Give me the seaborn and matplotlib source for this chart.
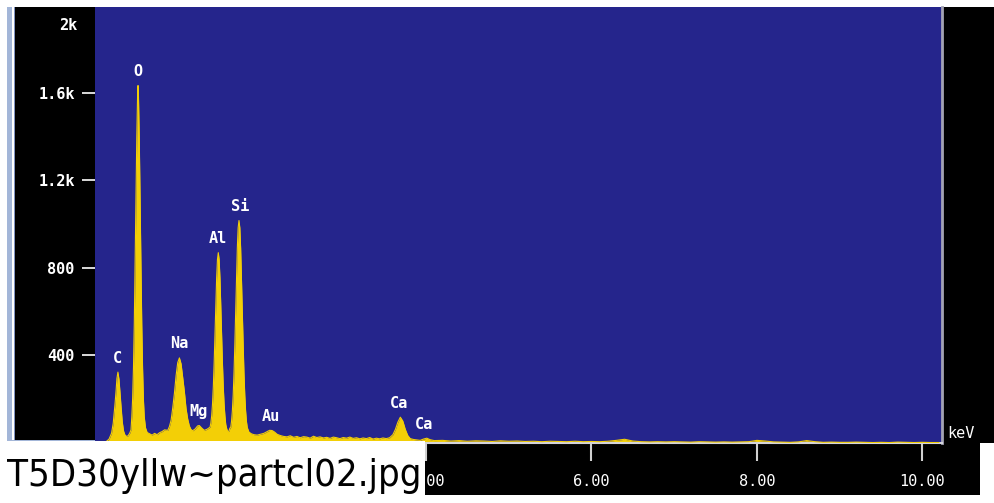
import matplotlib
matplotlib.use("Agg")
import matplotlib.pyplot as plt
from matplotlib import font_manager
from matplotlib.font_manager import FontProperties
from matplotlib.patches import Rectangle
import pandas as pd
import seaborn as sns

# ---------------------------------------------------------------- data
energy_kev = [
    0.10, 0.14, 0.17, 0.20, 0.22, 0.24, 0.255, 0.265, 0.277, 0.29, 0.30, 0.315,
    0.33, 0.345, 0.36, 0.38, 0.40, 0.42, 0.435, 0.445, 0.455, 0.465, 0.475,
    0.485, 0.495, 0.505, 0.515, 0.52, 0.525, 0.535, 0.545, 0.555, 0.565, 0.575,
    0.585, 0.595, 0.61, 0.63, 0.66, 0.69, 0.72, 0.75, 0.78, 0.81, 0.84, 0.88,
    0.90, 0.92, 0.94, 0.96, 0.98, 1.00, 1.02, 1.04, 1.06, 1.08, 1.10, 1.12,
    1.14, 1.16, 1.18, 1.21, 1.24, 1.26, 1.29, 1.32, 1.35, 1.39, 1.40, 1.41,
    1.42, 1.43, 1.44, 1.45, 1.46, 1.47, 1.48, 1.49, 1.50, 1.51, 1.52, 1.53,
    1.54, 1.55, 1.56, 1.57, 1.58, 1.59, 1.60, 1.61, 1.62, 1.63, 1.64, 1.65,
    1.66, 1.67, 1.68, 1.69, 1.70, 1.71, 1.72, 1.73, 1.74, 1.75, 1.76, 1.77,
    1.78, 1.79, 1.80, 1.81, 1.82, 1.83, 1.84, 1.86, 1.89, 1.92, 1.96, 2.00,
    2.04, 2.08, 2.11, 2.14, 2.17, 2.20, 2.24, 2.28, 2.32, 2.36, 2.40, 2.44,
    2.48, 2.52, 2.56, 2.60, 2.64, 2.68, 2.72, 2.76, 2.80, 2.84, 2.88, 2.92,
    2.96, 3.00, 3.04, 3.08, 3.12, 3.16, 3.20, 3.24, 3.28, 3.32, 3.36, 3.40,
    3.44, 3.48, 3.52, 3.56, 3.60, 3.63, 3.66, 3.69, 3.72, 3.75, 3.78, 3.81,
    3.85, 3.89, 3.93, 3.97, 4.01, 4.05, 4.10, 4.20, 4.30, 4.40, 4.50, 4.60,
    4.70, 4.80, 4.90, 5.00, 5.10, 5.20, 5.30, 5.40, 5.50, 5.60, 5.70, 5.80,
    5.90, 6.00, 6.10, 6.20, 6.30, 6.40, 6.50, 6.60, 6.70, 6.80, 6.90, 7.00,
    7.10, 7.20, 7.30, 7.40, 7.50, 7.60, 7.70, 7.80, 7.90, 8.00, 8.10, 8.20,
    8.30, 8.40, 8.50, 8.60, 8.70, 8.80, 8.90, 9.00, 9.10, 9.20, 9.30, 9.40,
    9.50, 9.60, 9.70, 9.80, 9.90, 10.00, 10.10, 10.20,
]
counts = [
    2, 8, 18, 45, 90, 170, 240, 295, 324, 290, 240, 160,
    95, 55, 38, 30, 33, 45, 60, 120, 205, 345, 550,
    815, 1115, 1395, 1595, 1634, 1590, 1390, 1110, 810, 545, 340,
    200, 120, 70, 48, 42, 36, 44, 38, 47, 52, 60, 58,
    76, 105, 162, 228, 308, 368, 389, 362, 300, 235, 158, 110,
    78, 62, 56, 64, 78, 80, 68, 58, 62, 72, 91, 124,
    178, 258, 366, 495, 631, 754, 839, 870, 839, 754, 631, 495,
    366, 258, 178, 124, 85, 68, 56, 52, 55, 68, 71, 99,
    147, 219, 321, 451, 601, 755, 891, 984, 1017, 984, 891, 755,
    601, 451, 321, 219, 147, 99, 71, 50, 42, 38, 36, 40,
    44, 52, 58, 57, 50, 40, 34, 30, 28, 33, 26, 30,
    24, 29, 27, 22, 31, 25, 28, 23, 26, 21, 27, 24,
    20, 25, 22, 27, 21, 24, 19, 23, 20, 25, 18, 22,
    19, 23, 20, 24, 38, 62, 95, 118, 100, 62, 34, 20,
    16, 14, 12, 18, 22, 15, 11, 12, 9, 11, 8, 10,
    9, 7, 10, 8, 9, 7, 8, 6, 8, 7, 6, 8,
    6, 7, 6, 8, 12, 17, 9, 6, 5, 6, 5, 6,
    5, 4, 6, 5, 4, 5, 4, 5, 6, 12, 9, 5,
    4, 3, 5, 11, 6, 3, 4, 3, 3, 4, 3, 2,
    3, 2, 4, 3, 2, 3, 2, 2,
]

peak_labels = ["C", "O", "Na", "Mg", "Al", "Si", "Au", "Ca", "Ca"]
peak_kev = [0.277, 0.52, 1.02, 1.25, 1.48, 1.75, 2.13, 3.67, 3.98]
peak_counts = [324, 1634, 389, 80, 870, 1017, 57, 118, 22]

y_ticks = [400, 800, 1200, 1600]
y_tick_labels = ["400", "800", "1.2k", "1.6k"]
y_top_label = "2k"
x_ticks = [4, 6, 8, 10]
x_tick_labels = ["4.00", "6.00", "8.00", "10.00"]
x_unit = "keV"
caption = "T5D30yllw~partcl02.jpg"

# ---------------------------------------------------------------- style
W, H, DPI = 995, 503, 100
BLUE = "#25258c"
YELLOW = "#f3cf06"
MONO = ["DejaVu Sans Mono", "DejaVu Sans"]

sns.set_style("dark")
plt.rcParams["font.family"] = MONO


def caption_font():
    """Prefer a narrow sans face for the file-name caption."""
    entries = font_manager.fontManager.ttflist
    preferred = ["Liberation Sans Narrow", "Arimo", "Liberation Sans",
                 "Roboto", "Noto Sans", "Open Sans", "DejaVu Sans"]
    narrow = ("condensed", "semi-condensed", "extra-condensed")
    for fam in preferred:
        for f in entries:
            if (f.name == fam and f.stretch in narrow and f.style == "normal"
                    and f.weight in (400, "normal", "regular")):
                return FontProperties(fname=f.fname)
    for f in entries:
        if f.name == "Liberation Sans Narrow" and f.style == "normal":
            return FontProperties(fname=f.fname)
    return FontProperties(family="Liberation Sans")


fig = plt.figure(figsize=(W / DPI, H / DPI), dpi=DPI, facecolor="white")

# frame pieces laid out in pixel coordinates
bg = fig.add_axes([0, 0, 1, 1], zorder=-5)
bg.set_xlim(0, W)
bg.set_ylim(H, 0)
bg.axis("off")
bg.add_patch(Rectangle((7, 7), 5, 435, color="#a3b6d8", lw=0))
bg.add_patch(Rectangle((13.5, 7), 1.5, 435, color="#8193c0", lw=0))
bg.add_patch(Rectangle((15, 7), 80, 434, color="black", lw=0))
bg.add_patch(Rectangle((7, 440), 88, 2, color="#a3b6d8", lw=0))
bg.add_patch(Rectangle((943, 7), 52, 436, color="black", lw=0))
bg.add_patch(Rectangle((425, 443), 555, 52, color="black", lw=0))

# spectrum axes
left, right, top, bottom = 95, 942, 7, 443
ax = fig.add_axes([left / W, (H - bottom) / H, (right - left) / W, (bottom - top) / H])
ax.set_facecolor(BLUE)

df = pd.DataFrame({"energy": energy_kev, "counts": counts})
ax.fill_between(df["energy"], df["counts"], 0, color=YELLOW, lw=0, zorder=2)
sns.lineplot(data=df, x="energy", y="counts", ax=ax, color=YELLOW, lw=0.8,
             sort=False, zorder=3)

ax.set_xlim(0, 10.236)
ax.set_ylim(0, 1993)
ax.set_xlabel("")
ax.set_ylabel("")
ax.grid(False)

for name in ("left", "top"):
    ax.spines[name].set_visible(False)
ax.spines["bottom"].set_color("#d4d4dc")
ax.spines["bottom"].set_linewidth(1.5)
ax.spines["right"].set_color("#a4a4b4")
ax.spines["right"].set_linewidth(2)

ax.set_yticks(y_ticks)
ax.set_yticklabels(y_tick_labels)
ax.tick_params(axis="y", direction="out", length=9.5, width=1.2, color="white",
               labelcolor="white", pad=5, labelsize=11, left=True)
for lbl in ax.get_yticklabels():
    lbl.set_fontweight("bold")

ax.set_xticks(x_ticks)
ax.set_xticklabels(x_tick_labels)
ax.tick_params(axis="x", direction="out", length=13, width=1.5, color="#d0d0d0",
               labelcolor="white", pad=9, labelsize=11, bottom=True)

ax.annotate(y_top_label, xy=(0, 1), xycoords="axes fraction", xytext=(-18, -18),
            textcoords="offset pixels", ha="right", va="center", color="white",
            fontsize=11, fontweight="bold")
ax.annotate(x_unit, xy=(1, 0), xycoords="axes fraction", xytext=(19, 10),
            textcoords="offset pixels", ha="center", va="center", color="white",
            fontsize=11)

for name, e, c in zip(peak_labels, peak_kev, peak_counts):
    ax.annotate(name, xy=(e, c), xytext=(0, 14), textcoords="offset pixels",
                ha="center", va="center", color="white", fontsize=11,
                fontweight="bold", zorder=5)

# caption strip over the lower left corner
top_layer = fig.add_axes([0, 0, 1, 1], zorder=10)
top_layer.set_xlim(0, W)
top_layer.set_ylim(H, 0)
top_layer.axis("off")
top_layer.add_patch(Rectangle((0, 441), 425, 62, color="white", lw=0))
cap_prop = caption_font()
cap_text = top_layer.text(7, 486, caption, ha="left", va="baseline", color="black",
                          fontproperties=cap_prop, fontsize=40)
fig.canvas.draw()
cap_width = cap_text.get_window_extent().width
cap_text.set_fontsize(min(40 * 414 / cap_width, 35))

fig.savefig("out.png", dpi=DPI, facecolor="white")
